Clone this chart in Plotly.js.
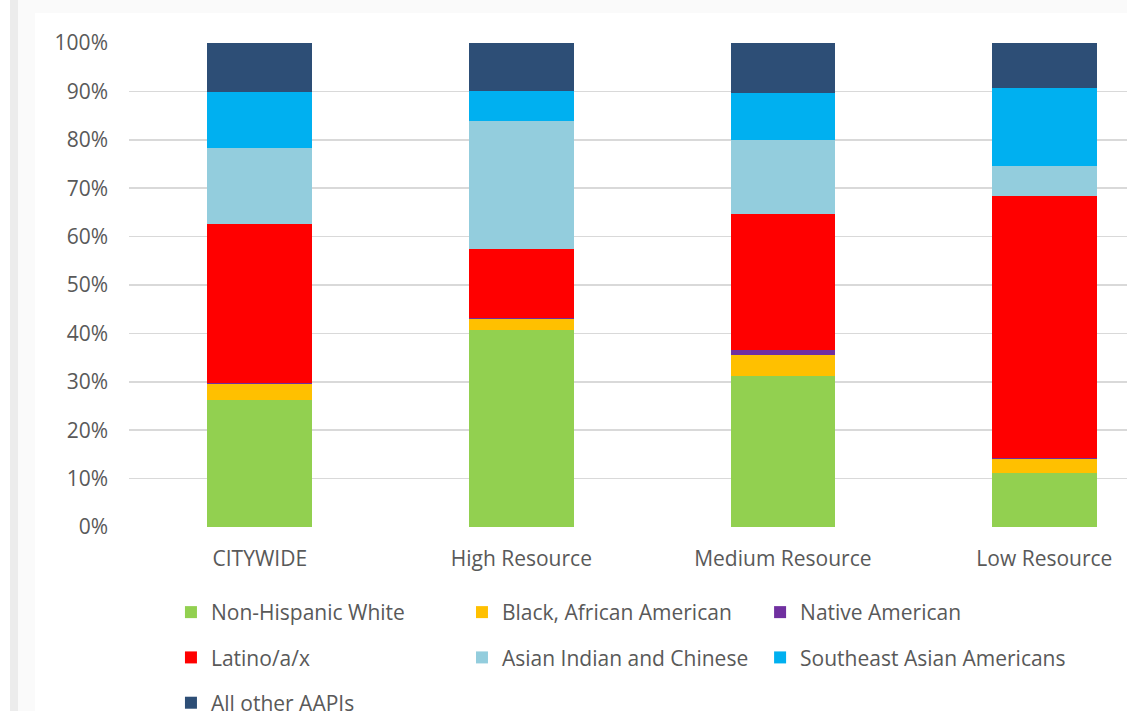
<!DOCTYPE html>
<html>
<head>
<meta charset="utf-8">
<script src="https://cdn.plot.ly/plotly-3.0.1.min.js"></script>
<style>
  html, body { margin: 0; padding: 0; width: 1127px; height: 711px; overflow: hidden; background: #fafafa; }
  #edge { position: absolute; left: 0; top: 0; width: 10px; height: 711px; background: #ffffff; }
  #stripe { position: absolute; left: 10px; top: 0; width: 8px; height: 711px; background: #ececec; }
  #chart { position: absolute; left: 35px; top: 13px; width: 1092px; height: 760px; background: #ffffff; }
</style>
</head>
<body>
<div id="edge"></div>
<div id="stripe"></div>
<div id="chart"></div>
<script>
const categories = ["CITYWIDE", "High Resource", "Medium Resource", "Low Resource"];

const nonHispanicWhite   = [0.263, 0.408, 0.313, 0.112];
const blackAfricanAm     = [0.032, 0.022, 0.043, 0.028];
const nativeAmerican     = [0.003, 0.002, 0.009, 0.003];
const latino             = [0.329, 0.142, 0.281, 0.540];
const asianIndianChinese = [0.156, 0.265, 0.153, 0.063];
const southeastAsian     = [0.115, 0.061, 0.098, 0.162];
const allOtherAAPIs      = [0.102, 0.100, 0.103, 0.092];

const yTickVals = [0, 0.1, 0.2, 0.3, 0.4, 0.5, 0.6, 0.7, 0.8, 0.9, 1.0];
const yTickText = ["0%", "10%", "20%", "30%", "40%", "50%", "60%", "70%", "80%", "90%", "100%"];

const series = [
  { name: "Non-Hispanic White", y: nonHispanicWhite, color: "#92d050", legend: "legend" },
  { name: "Black, African American", y: blackAfricanAm, color: "#ffc000", legend: "legend2" },
  { name: "Native American", y: nativeAmerican, color: "#7030a0", legend: "legend3" },
  { name: "Latino/a/x", y: latino, color: "#ff0000", legend: "legend" },
  { name: "Asian Indian and Chinese", y: asianIndianChinese, color: "#93cddd", legend: "legend2" },
  { name: "Southeast Asian Americans", y: southeastAsian, color: "#00b0f0", legend: "legend3" },
  { name: "All other AAPIs", y: allOtherAAPIs, color: "#2d4e76", legend: "legend" }
];

const traces = series.map((s, i) => ({
  type: "bar",
  name: s.name,
  x: categories,
  y: s.y,
  marker: { color: s.color, line: { width: 0 } },
  legend: s.legend,
  legendgroup: "g" + i,
  hoverinfo: "skip"
}));

const font = { family: "Open Sans, Noto Sans, sans-serif", size: 21, color: "#595959" };
const legendBase = {
  xref: "container", yref: "container",
  xanchor: "left", yanchor: "top",
  orientation: "v",
  traceorder: "grouped",
  tracegroupgap: 15,
  bgcolor: "rgba(0,0,0,0)",
  font: font
};

const layout = {
  width: 1092,
  height: 760,
  margin: { l: 94, r: 0, t: 30, b: 246, autoexpand: false },
  paper_bgcolor: "#ffffff",
  plot_bgcolor: "#ffffff",
  barmode: "stack",
  bargap: 0.6,
  font: font,
  xaxis: {
    type: "category",
    range: [-0.5, 3.316],
    showgrid: false,
    zeroline: false,
    showline: false,
    ticks: "",
    ticklabelstandoff: 17,
    tickfont: font,
    automargin: false
  },
  yaxis: {
    range: [0, 1],
    tickvals: yTickVals,
    ticktext: yTickText,
    showgrid: true,
    gridcolor: "#d9d9d9",
    gridwidth: 1.5,
    zeroline: false,
    showline: false,
    ticks: "",
    ticklabelstandoff: 20,
    tickfont: font,
    automargin: false
  },
  showlegend: true,
  legend:  Object.assign({}, legendBase, { x: 0.1245, y: 0.2382 }),
  legend2: Object.assign({}, legendBase, { x: 0.391, y: 0.2382 }),
  legend3: Object.assign({}, legendBase, { x: 0.664, y: 0.2382 })
};

Plotly.newPlot("chart", traces, layout, { displayModeBar: false, staticPlot: true });
</script>
</body>
</html>
